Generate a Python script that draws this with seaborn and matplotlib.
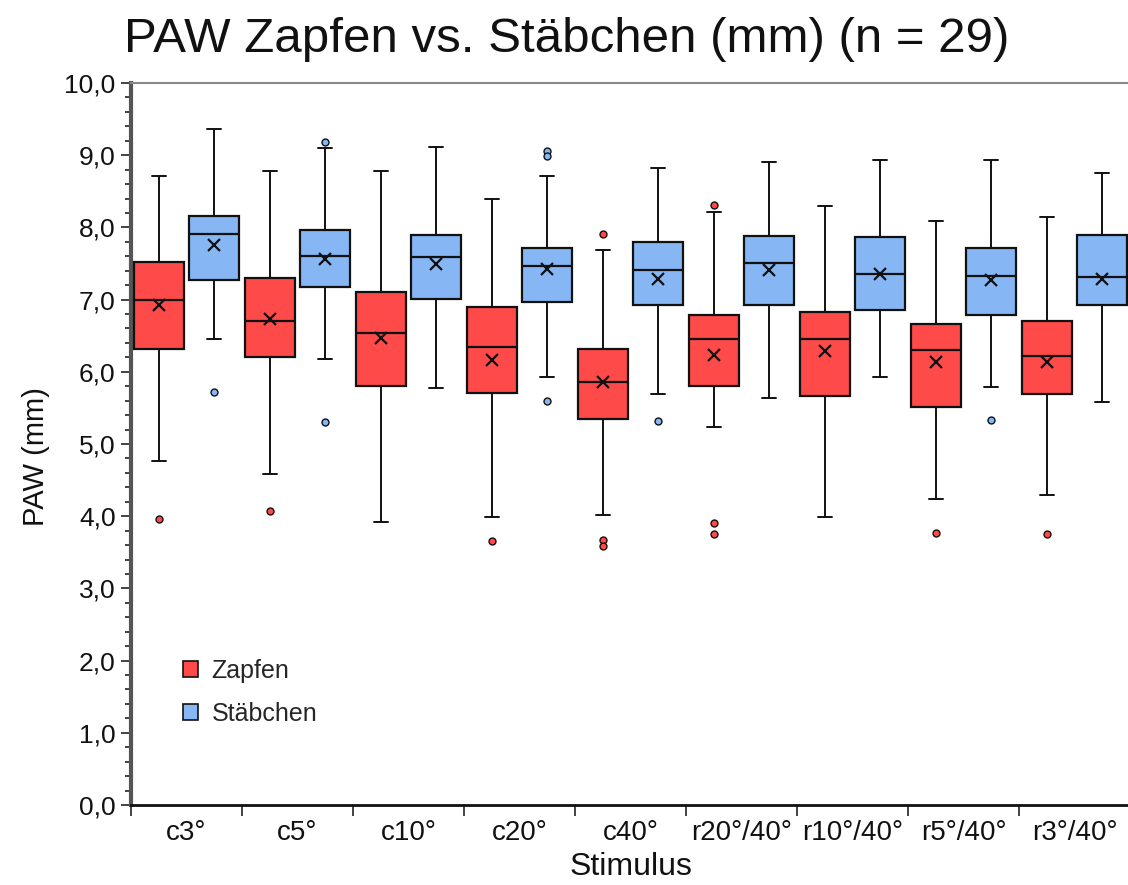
import matplotlib
matplotlib.use("Agg")
import matplotlib.pyplot as plt
from matplotlib.patches import Patch
from matplotlib.ticker import MultipleLocator, FuncFormatter
import seaborn as sns

# ---------------- data ----------------
stimuli = ["c3°", "c5°", "c10°", "c20°", "c40°", "r20°/40°", "r10°/40°", "r5°/40°", "r3°/40°"]
groups = ["Zapfen", "Stäbchen"]

# Zapfen (cones)
z_wlo = [4.77, 4.59, 3.92, 3.99, 4.02, 5.24, 3.99, 4.24, 4.30]
z_q1 = [6.32, 6.20, 5.80, 5.70, 5.35, 5.80, 5.66, 5.51, 5.69]
z_med = [7.00, 6.71, 6.54, 6.35, 5.86, 6.45, 6.45, 6.30, 6.22]
z_q3 = [7.52, 7.30, 7.10, 6.90, 6.31, 6.79, 6.83, 6.66, 6.70]
z_whi = [8.71, 8.78, 8.78, 8.40, 7.69, 8.22, 8.29, 8.09, 8.14]
z_mean = [6.92, 6.73, 6.47, 6.16, 5.86, 6.23, 6.29, 6.14, 6.14]
z_fliers = [[3.96], [4.07], [], [3.65], [7.91, 3.67, 3.59], [8.31, 3.91, 3.75], [], [3.77], [3.76]]

# Stäbchen (rods)
s_wlo = [6.46, 6.18, 5.78, 5.93, 5.69, 5.64, 5.93, 5.79, 5.58]
s_q1 = [7.27, 7.18, 7.01, 6.96, 6.92, 6.92, 6.85, 6.78, 6.93]
s_med = [7.91, 7.60, 7.59, 7.46, 7.41, 7.50, 7.36, 7.33, 7.31]
s_q3 = [8.16, 7.97, 7.90, 7.72, 7.80, 7.88, 7.87, 7.71, 7.90]
s_whi = [9.36, 9.10, 9.11, 8.71, 8.82, 8.91, 8.94, 8.94, 8.76]
s_mean = [7.75, 7.56, 7.49, 7.43, 7.29, 7.41, 7.35, 7.27, 7.29]
s_fliers = [[5.72], [9.18, 5.30], [], [9.06, 8.99, 5.60], [5.32], [], [], [5.33], []]

colors = {"Zapfen": "#FF4A4A", "Stäbchen": "#86B7F4"}

title = "PAW Zapfen vs. Stäbchen (mm) (n = 29)"
ylabel = "PAW (mm)"
xlabel = "Stimulus"

# ---------------- style ----------------
sns.set_theme(style="white")
plt.rcParams["font.family"] = ["Liberation Sans", "DejaVu Sans"]

fig = plt.figure(figsize=(11.28, 8.85), dpi=100)
ax = fig.add_axes([131 / 1128, 1 - 805 / 885, 999 / 1128, (805 - 83) / 885])


def make_stats(wlo, q1, med, q3, whi, mean, fliers):
    return [dict(whislo=a, q1=b, med=c, q3=d, whishi=e, mean=f, fliers=g)
            for a, b, c, d, e, f, g in zip(wlo, q1, med, q3, whi, mean, fliers)]


z_stats = make_stats(z_wlo, z_q1, z_med, z_q3, z_whi, z_mean, z_fliers)
s_stats = make_stats(s_wlo, s_q1, s_med, s_q3, s_whi, s_mean, s_fliers)

offset = 0.25
width = 0.45
n = len(stimuli)
for stats, grp, sign in [(z_stats, "Zapfen", -1), (s_stats, "Stäbchen", 1)]:
    col = colors[grp]
    ax.bxp(
        stats,
        positions=[i + sign * offset for i in range(n)],
        widths=width,
        capwidths=0.13,
        patch_artist=True,
        showmeans=True,
        showfliers=True,
        boxprops=dict(facecolor=col, edgecolor="#111111", linewidth=1.6),
        medianprops=dict(color="#111111", linewidth=1.6),
        whiskerprops=dict(color="#111111", linewidth=1.4),
        capprops=dict(color="#111111", linewidth=1.4),
        meanprops=dict(marker="x", markeredgecolor="#111111", markersize=9,
                       markeredgewidth=1.6),
        flierprops=dict(marker="o", markerfacecolor=col, markeredgecolor="#111111",
                        markersize=5, markeredgewidth=1.0),
        manage_ticks=False,
        zorder=3,
    )

ax.set_xlim(-0.5, n - 0.5)
ax.set_ylim(0, 10)

# x ticks: labels at centres, tick marks at category boundaries
ax.set_xticks(range(n))
ax.set_xticklabels(stimuli, fontsize=20)
ax.set_xticks([i - 0.5 for i in range(n + 1)], minor=True)
ax.tick_params(axis="x", which="major", length=0, pad=11)
ax.tick_params(axis="x", which="minor", length=8, width=1.2, color="#222222",
               direction="out", bottom=True)

# y ticks
ax.yaxis.set_major_locator(MultipleLocator(1.0))
ax.yaxis.set_minor_locator(MultipleLocator(0.2))
ax.yaxis.set_major_formatter(FuncFormatter(lambda v, p: f"{v:.1f}".replace(".", ",")))
ax.tick_params(axis="y", which="major", labelsize=19, length=7, width=1.2,
               color="#222222", direction="out", left=True, pad=4)
ax.tick_params(axis="y", which="minor", length=4, width=1.2, color="#222222",
               direction="out", left=True)

for lab in ax.get_xticklabels() + ax.get_yticklabels():
    lab.set_color("#111111")

# spines
ax.spines["right"].set_visible(False)
ax.spines["top"].set_color("#888888")
ax.spines["top"].set_linewidth(1.5)
ax.spines["left"].set_color("#555555")
ax.spines["left"].set_linewidth(3)
ax.spines["bottom"].set_color("#111111")
ax.spines["bottom"].set_linewidth(2)
ax.grid(False)

ax.set_ylabel(ylabel, fontsize=21, color="#111111")
ax.yaxis.set_label_coords(-(131 - 50) / 999, (805 - 457) / 722)
ax.set_xlabel(xlabel, fontsize=23, color="#111111", labelpad=4)
fig.text(567 / 1128, 1 - 39 / 885, title, fontsize=35.5, ha="center", va="center",
         color="#111111")

handles = [Patch(facecolor=colors[g], edgecolor="#111111", linewidth=1.2, label=g)
           for g in groups]
ax.legend(handles=handles, loc="upper left",
          bbox_to_anchor=((183 - 131) / 999, (805 - 659) / 722),
          frameon=False, fontsize=18, handlelength=0.6, handleheight=0.6,
          handletextpad=0.55, labelspacing=0.75, borderaxespad=0, borderpad=0)

fig.savefig("out.png", dpi=100)
